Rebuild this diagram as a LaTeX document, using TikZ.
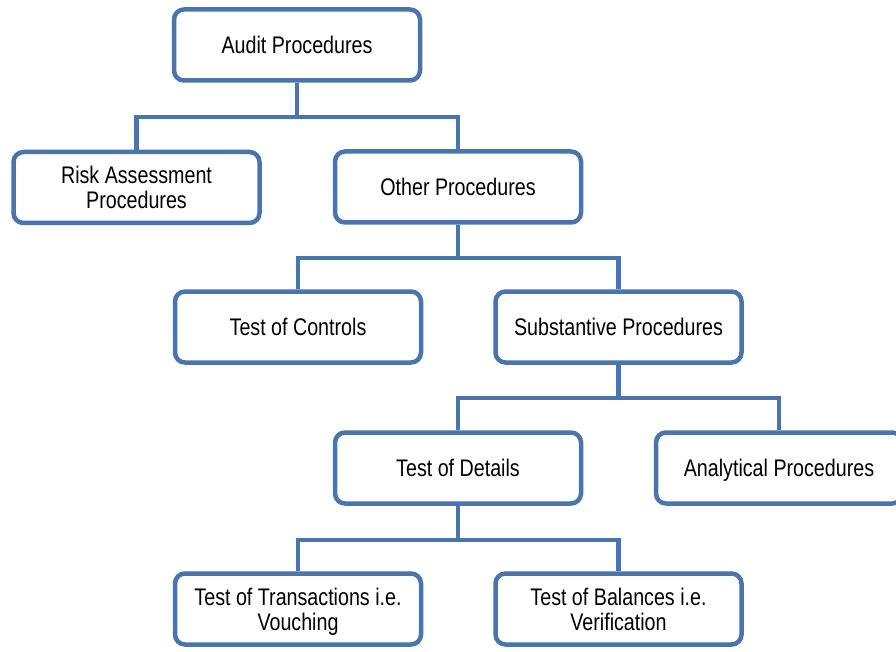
\documentclass[tikz,border=0pt]{standalone}
\usepackage{fontspec}
\setmainfont{Liberation Sans}[FakeStretch=0.82]
\definecolor{boxblue}{HTML}{4A74AC}
\begin{document}
\begin{tikzpicture}[x=1pt,y=-1pt,
  procbox/.style={draw=boxblue, line width=4.5pt, rounded corners=10pt, fill=white,
    minimum width=246pt, minimum height=71pt, inner sep=0pt, align=center,
    font=\fontsize{24pt}{25pt}\selectfont},
  oneline/.style={procbox, text height=17pt, text depth=0pt},
  link/.style={draw=boxblue, line width=4.5pt}]
  \clip (0,0) rectangle (896,652);
  \fill[white] (0,0) rectangle (896,652);

  % levels of the tree
  \node[oneline] (audit) at (297,45) {Audit Procedures};
  \node[procbox] (risk) at (136.5,187.5) {Risk Assessment\\\smash{Procedures}};
  \node[oneline] (other) at (458,187) {Other Procedures};
  \node[oneline] (controls) at (298,327) {Test of Controls};
  \node[oneline] (subst) at (618.5,327) {Substantive Procedures};
  \node[oneline] (details) at (458,468) {Test of Details};
  \node[oneline] (analytic) at (779,468) {Analytical Procedures};
  \node[procbox] (trans) at (298,609) {Test of Transactions i.e.\\\smash{Vouching}};
  \node[procbox] (bal) at (618.5,609) {Test of Balances i.e.\\\smash{Verification}};

  % horizontal bus heights
  \coordinate (busA) at (0,117);
  \coordinate (busB) at (0,258);
  \coordinate (busC) at (0,398);
  \coordinate (busD) at (0,540);

  \draw[link] (audit.south) -- (audit.south |- busA);
  \draw[link] (risk.north) -- (risk.north |- busA) -- (other.north |- busA) -- (other.north);

  \draw[link] (other.south) -- (other.south |- busB);
  \draw[link] (controls.north) -- (controls.north |- busB) -- (subst.north |- busB) -- (subst.north);

  \draw[link] (subst.south) -- (subst.south |- busC);
  \draw[link] (details.north) -- (details.north |- busC) -- (analytic.north |- busC) -- (analytic.north);

  \draw[link] (details.south) -- (details.south |- busD);
  \draw[link] (trans.north) -- (trans.north |- busD) -- (bal.north |- busD) -- (bal.north);
\end{tikzpicture}
\end{document}
